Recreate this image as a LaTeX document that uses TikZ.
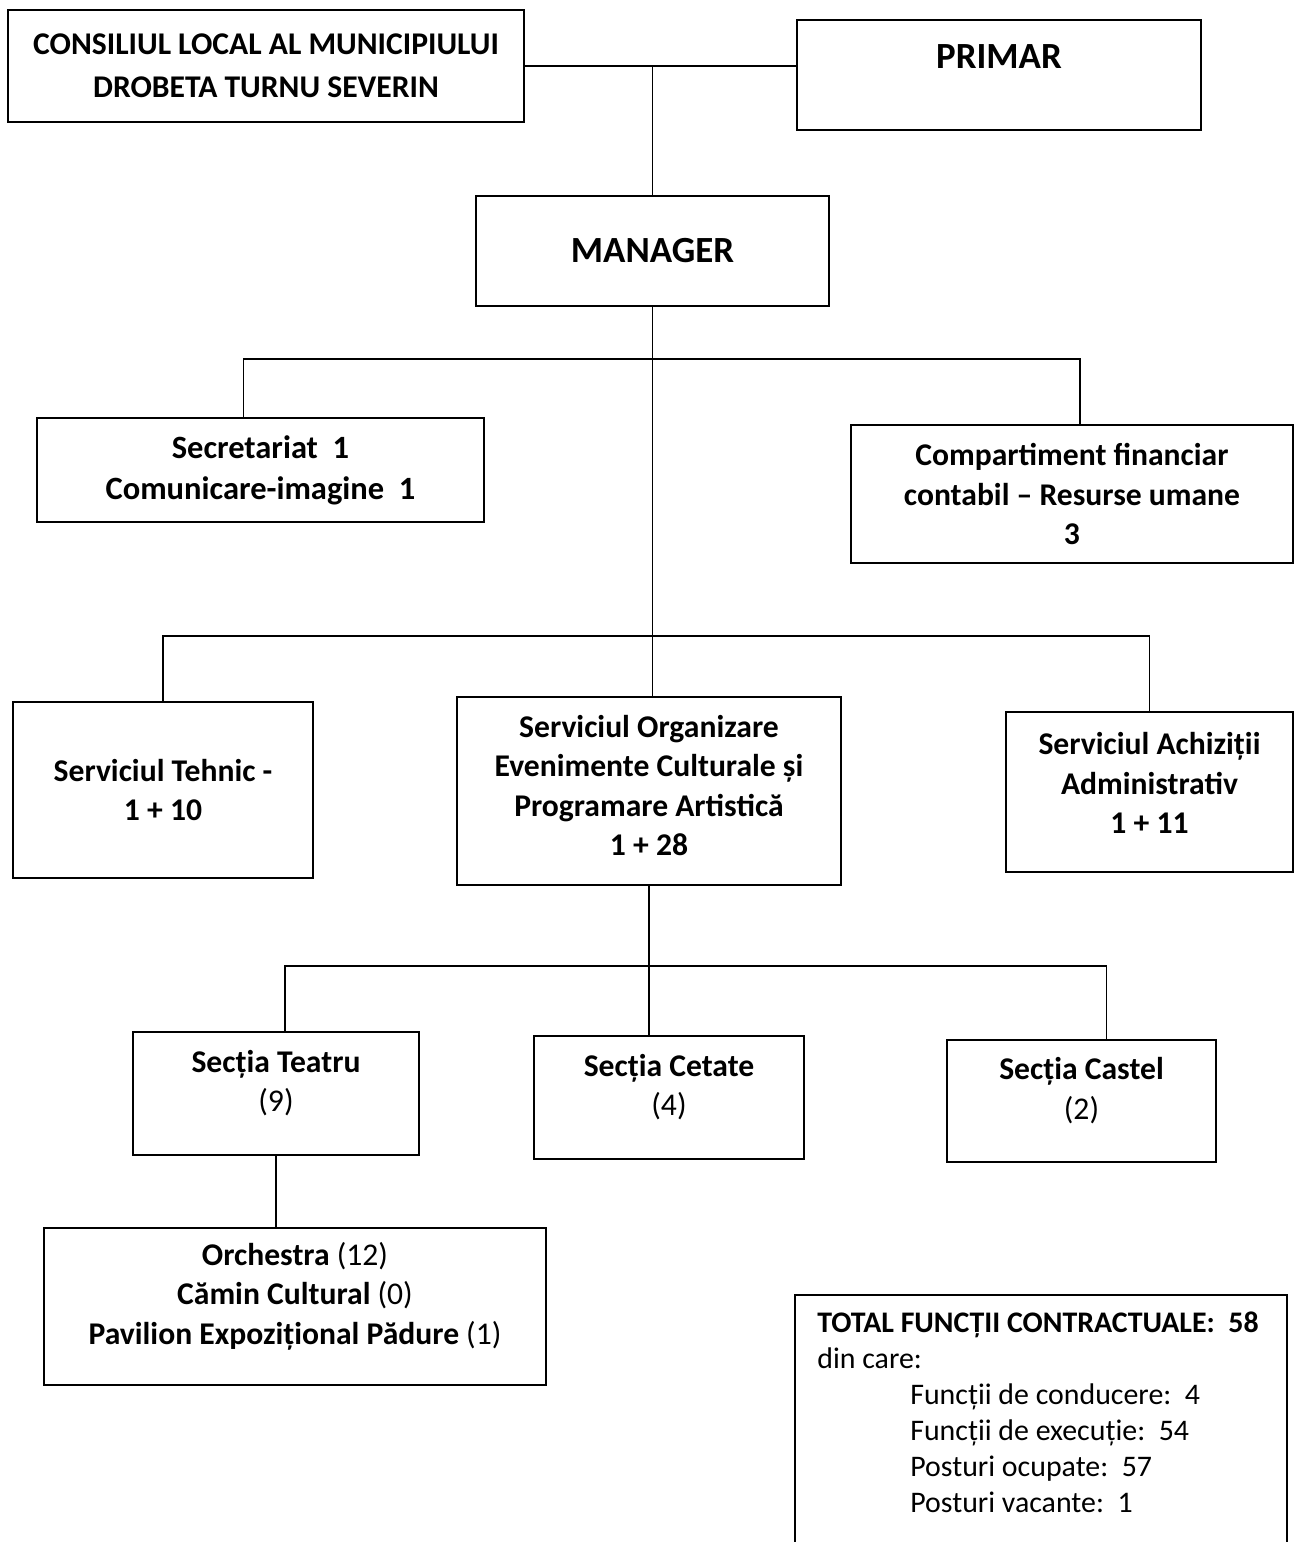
\documentclass[tikz,border=0pt]{standalone}
\usepackage{fontspec}
\setmainfont{Carlito}
\usepackage{tikz}
\usetikzlibrary{positioning}

\begin{document}
\begin{tikzpicture}[x=0.02cm, y=-0.02cm]
	\useasboundingbox (0,0) rectangle (1295,1542);
	\begin{scope}[every node/.style={draw, line width=1.1pt, align=center, inner sep=2pt,
	                                 font=\bfseries\fontsize{18}{22.5}\selectfont},
	              lift/.style={text depth=#1}]
		\node[minimum width=10.32cm, minimum height=2.24cm, font=\bfseries\fontsize{18}{24.4}\selectfont]
			(consiliul) at (266,66) {CONSILIUL LOCAL AL MUNICIPIULUI\\DROBETA TURNU SEVERIN};
		\node[minimum width=8.08cm, minimum height=2.2cm, lift=0.72cm, font=\bfseries\fontsize{21}{25}\selectfont]
			(primar) at (999,75) {PRIMAR};
		\node[minimum width=7.06cm, minimum height=2.2cm, font=\bfseries\fontsize{21}{25}\selectfont]
			(manager) at (652.5,251) {MANAGER};
		\node[minimum width=8.94cm, minimum height=2.08cm, font=\bfseries\fontsize{18.5}{23.2}\selectfont]
			(secretariat) at (260.5,470) {Secretariat\ \ 1\\Comunicare-imagine\ \ 1};
		\node[minimum width=8.84cm, minimum height=2.76cm]
			(compartiment) at (1072,494) {Compartiment financiar\\contabil -- Resurse umane\\3};
		\node[minimum width=6cm, minimum height=3.52cm]
			(tehnic) at (163,790) {Serviciul Tehnic -\\1 + 10};
		\node[minimum width=7.68cm, minimum height=3.76cm, lift=0.22cm]
			(organizare) at (649,791) {Serviciul Organizare\\Evenimente Culturale și\\Programare Artistică\\1 + 28};
		\node[minimum width=5.74cm, minimum height=3.2cm, lift=0.36cm]
			(achizitii) at (1149.5,792) {Serviciul Achiziții\\Administrativ\\1 + 11};
		\node[minimum width=5.72cm, minimum height=2.46cm, lift=0.51cm]
			(teatru) at (276,1093.5) {Secția Teatru\\\mdseries(9)};
		\node[minimum width=5.4cm, minimum height=2.46cm, lift=0.51cm]
			(cetate) at (669,1097.5) {Secția Cetate\\\mdseries(4)};
		\node[minimum width=5.38cm, minimum height=2.44cm, lift=0.51cm]
			(castel) at (1081.5,1101) {Secția Castel\\\mdseries(2)};
		\node[minimum width=10.04cm, minimum height=3.14cm, lift=0.53cm]
			(orchestra) at (295,1306.5) {Orchestra \mdseries(12)\\Cămin Cultural \mdseries(0)\\Pavilion Expozițional Pădure \mdseries(1)};
	\end{scope}

	% totals
	\node[anchor=north west, align=left, inner sep=0pt, font=\fontsize{17}{20.4}\selectfont]
		(total) at (817,1312) {\textbf{TOTAL FUNCȚII CONTRACTUALE:\ \ 58}\\
		din care:\\
		\hspace*{1.86cm}Funcții de conducere:\ \ 4\\
		\hspace*{1.86cm}Funcții de execuție:\ \ 54\\
		\hspace*{1.86cm}Posturi ocupate:\ \ 57\\
		\hspace*{1.86cm}Posturi vacante:\ \ 1};
	\draw[line width=1.1pt] (795,1542) |- (1287,1295) -- (1287,1542);

	\coordinate (bus1) at (0,359);
	\coordinate (bus2) at (0,636);
	\coordinate (bus3) at (0,966);

	\begin{scope}[line width=0.8pt]
		\draw (consiliul.east) -- (consiliul.east -| primar.west);
		\draw (manager.north |- consiliul.east) -- (manager.north);
		\draw (manager.south) -- (manager.south |- organizare.north);
		\draw ([xshift=-0.34cm]secretariat.north) -- ([xshift=-0.34cm]secretariat.north |- bus1)
			-| ([xshift=0.16cm]compartiment.north);
		\draw (tehnic.north) -- (tehnic.north |- bus2) -| (achizitii.north);
		\draw (organizare.south) -- (organizare.south |- cetate.north);
		\draw ([xshift=0.18cm]teatru.north) -- ([xshift=0.18cm]teatru.north |- bus3)
			-| ([xshift=0.5cm]castel.north);
		\draw (teatru.south) -- (teatru.south |- orchestra.north);
	\end{scope}
\end{tikzpicture}
\end{document}
